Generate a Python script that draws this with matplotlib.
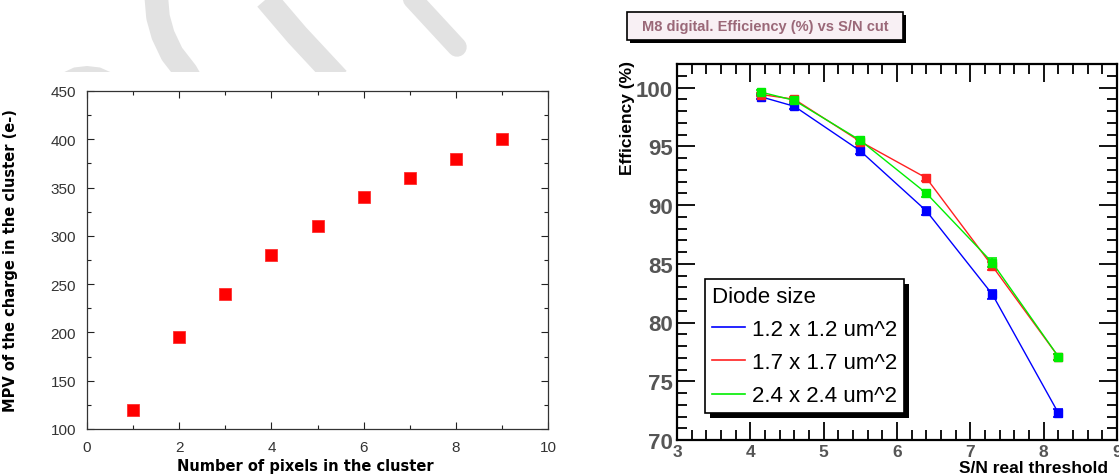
import matplotlib
matplotlib.use('Agg')
import matplotlib.pyplot as plt
from matplotlib.ticker import MultipleLocator
from matplotlib.patches import Rectangle

# left panel: MPV vs cluster size
npix = [1, 2, 3, 4, 5, 6, 7, 8, 9]
mpv = [120, 195, 240, 280, 310, 340, 360, 380, 400]

# right panel: efficiency vs S/N threshold
sn_thr = [4.15, 4.6, 5.5, 6.4, 7.3, 8.2]
eff_12 = [99.2, 98.4, 94.6, 89.5, 82.4, 72.3]
err_12 = [0.15, 0.2, 0.3, 0.35, 0.4, 0.3]
eff_17 = [99.4, 99.0, 95.4, 92.3, 84.8, 77.1]
err_17 = [0.15, 0.15, 0.25, 0.25, 0.35, 0.25]
eff_24 = [99.6, 98.9, 95.5, 91.0, 85.1, 77.1]
err_24 = [0.15, 0.15, 0.25, 0.3, 0.35, 0.25]
labels = ['1.2 x 1.2 um^2', '1.7 x 1.7 um^2', '2.4 x 2.4 um^2']
colors = ['#0000ff', '#ff2020', '#00ee00']

W, H = 1119, 477
fig = plt.figure(figsize=(W / 100, H / 100), dpi=100)

# faint watermark strokes behind the left chart (pixel coords)
bg = fig.add_axes([0, 1 - 73 / H, 560 / W, 73 / H])
bg.set_xlim(0, 560)
bg.set_ylim(73, 0)
bg.axis('off')
wm = '#e2e2e2'
bg.fill([58, 74, 87, 100, 117, 117, 58], [76, 68.5, 67, 68.5, 76, 80, 80], color=wm, lw=0)
bg.plot([156, 158, 163, 172, 186, 190], [-5, 18, 36, 55, 73, 80], color=wm, lw=17, solid_capstyle='butt')
bg.plot([262, 297, 338], [-5, 36, 80], color=wm, lw=17, solid_capstyle='butt')
bg.plot([408, 457], [-5, 48], color=wm, lw=14, solid_capstyle='round')

# ---------------- left chart ----------------
ax1 = fig.add_axes([87 / W, 1 - 430 / H, 461 / W, 338 / H])
ax1.plot(npix, mpv, 's', color='red', ms=8, mec='#ff3030', mew=0.6)
ax1.set_xlim(0, 10)
ax1.set_ylim(100, 450)
ax1.xaxis.set_major_locator(MultipleLocator(2))
ax1.xaxis.set_minor_locator(MultipleLocator(1))
ax1.yaxis.set_major_locator(MultipleLocator(50))
ax1.yaxis.set_minor_locator(MultipleLocator(25))
ax1.tick_params(which='both', direction='in', top=True, right=True, width=0.8, color='#222222')
ax1.tick_params(which='major', length=5, labelsize=11, labelcolor='#333333', pad=8)
ax1.tick_params(which='minor', length=3)
for lab in ax1.get_xticklabels() + ax1.get_yticklabels():
    lab.set_family('Liberation Sans')
for s in ax1.spines.values():
    s.set_linewidth(0.9)
    s.set_color('#333333')
ax1.set_xlabel('Number of pixels in the cluster', fontsize=10.5, weight='bold')
ax1.set_ylabel('MPV of the charge in the cluster (e-)', fontsize=10.5, weight='bold')
ax1.xaxis.set_label_coords(0.473, -0.085)
ax1.yaxis.set_label_coords(-0.15, 0.5)

# ---------------- right chart ----------------
# title box with shadow
fig.patches.append(Rectangle((630 / W, 1 - 44 / H), 276 / W, 28 / H, transform=fig.transFigure,
                             fc='black', ec='black', lw=0))
fig.patches.append(Rectangle((627 / W, 1 - 41 / H), 276 / W, 28 / H, transform=fig.transFigure,
                             fc='#f8f0f4', ec='black', lw=1.2))
fig.text(765 / W, 1 - 27 / H, 'M8 digital. Efficiency (%) vs S/N cut', ha='center', va='center',
         fontsize=10.5, weight='bold', color='#9a6878', family='Liberation Sans')

ax2 = fig.add_axes([677 / W, 1 - 441 / H, 440 / W, 376 / H])
effs = [eff_12, eff_17, eff_24]
errs = [err_12, err_17, err_24]
for e, de, c, lab in zip(effs, errs, colors, labels):
    ax2.errorbar(sn_thr, e, yerr=de, color=c, marker='s', ms=5.5, lw=1.0,
                 elinewidth=1.2, capsize=3.5, capthick=1.2, label=lab)
ax2.set_xlim(3, 9)
ax2.set_ylim(70, 102)
ax2.xaxis.set_major_locator(MultipleLocator(1))
ax2.xaxis.set_minor_locator(MultipleLocator(0.2))
ax2.yaxis.set_major_locator(MultipleLocator(5))
ax2.yaxis.set_minor_locator(MultipleLocator(1))
ax2.tick_params(which='both', direction='in', top=True, right=True, width=1.3)
ax2.tick_params(which='major', length=13)
ax2.tick_params(which='minor', length=7)
ax2.tick_params(axis='y', which='major', labelsize=16, labelcolor='#555555', pad=3)
ax2.tick_params(axis='x', which='major', labelsize=12.5, labelcolor='#555555', pad=3)
for lab in ax2.get_xticklabels() + ax2.get_yticklabels():
    lab.set_family('Liberation Sans')
    lab.set_weight('bold')
for s in ax2.spines.values():
    s.set_linewidth(1.6)

ax2.text(-0.112, 1.01, 'Efficiency (%)', transform=ax2.transAxes, rotation=90,
         ha='center', va='top', fontsize=12.5, weight='bold', family='Liberation Sans')
ax2.text(0.98, -0.093, 'S/N real threshold', transform=ax2.transAxes, ha='right', va='bottom',
         fontsize=12.5, weight='bold', family='Liberation Sans')

leg_lines = [plt.Line2D([], [], color=c, lw=1.2) for c in colors]
leg = ax2.legend(leg_lines, labels, title='Diode size', loc='upper left',
                 bbox_to_anchor=(0.0636, 0.428), borderaxespad=0, frameon=True,
                 fancybox=False, edgecolor='black', framealpha=1,
                 handlelength=1.5, handletextpad=0.3, labelspacing=0.55,
                 borderpad=0.3, alignment='left',
                 prop={'family': 'Liberation Sans', 'size': 16},
                 title_fontproperties={'family': 'Liberation Sans', 'size': 16})
leg.get_frame().set_linewidth(1.2)
leg.set_zorder(10)

fig.canvas.draw()
bb = leg.get_window_extent().transformed(fig.transFigure.inverted())
shadow = Rectangle((bb.x0 + 5 / W, bb.y0 - 5 / H), bb.width, bb.height,
                   transform=fig.transFigure, fc='black', lw=0, zorder=9, clip_on=False)
ax2.add_patch(shadow)

fig.savefig('out.png', dpi=100)
